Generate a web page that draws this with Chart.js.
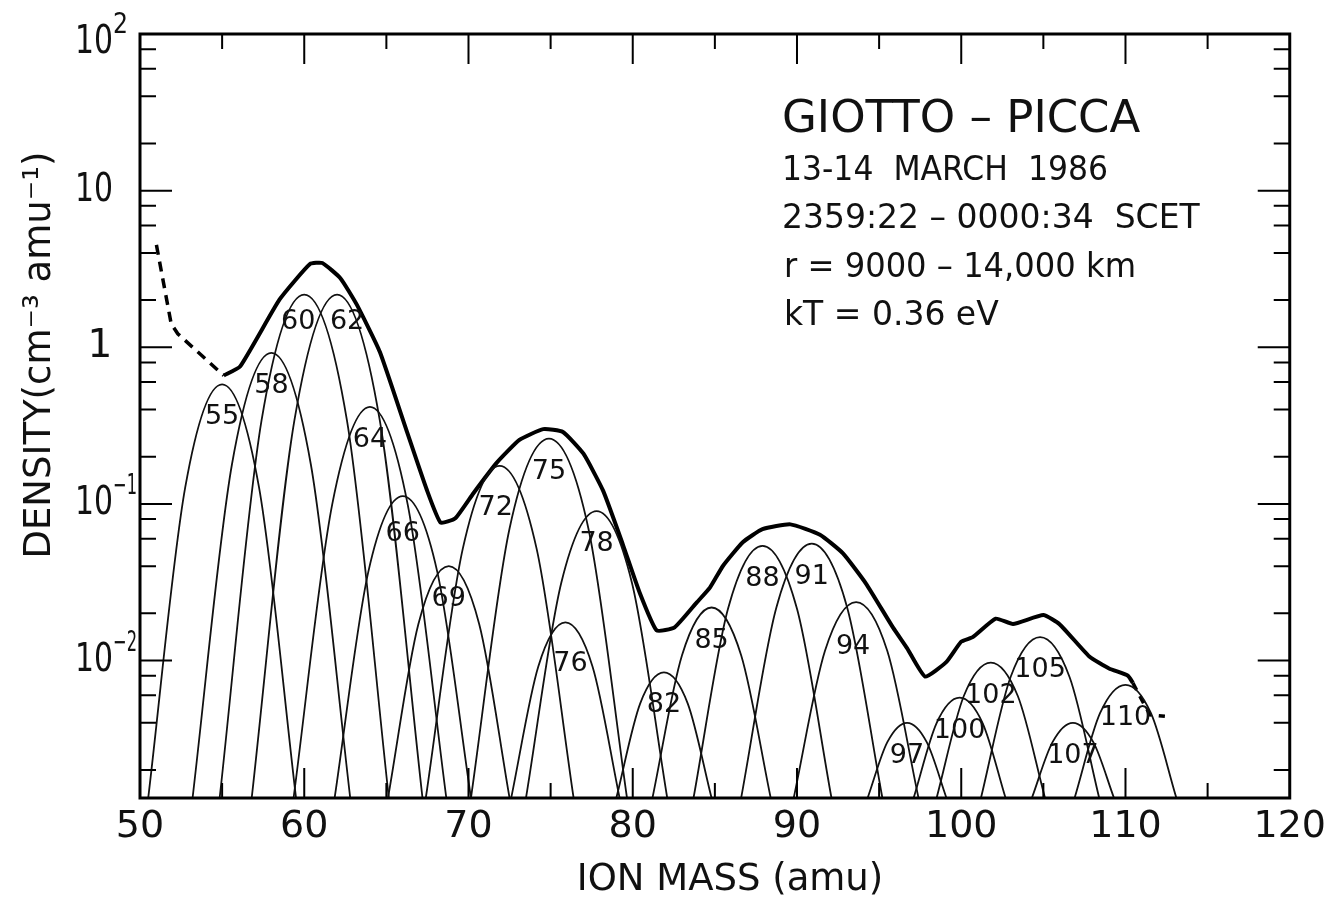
<!DOCTYPE html>
<html>
<head>
<meta charset="utf-8">
<script src="https://cdn.jsdelivr.net/npm/chart.js@4.4.0/dist/chart.umd.min.js"></script>
<style>
  html, body { margin: 0; padding: 0; background: #fff; }
  #wrap { width: 1332px; height: 909px; }
</style>
</head>
<body>
<div id="wrap"><canvas id="chart" width="1332" height="909"></canvas></div>
<script>
// axis ranges + tick labels
var massMin = 50, massMax = 120;
var densityMin = 0.001325, densityMax = 100;
var yTickValues = [0.01, 0.1, 1, 10, 100];
var yTickLabels = ['10^\u22122', '10^\u22121', '1', '10', '10^2'];

// fitted ion components (thin curves)
var ionLabel = [55, 58, 60, 62, 64, 66, 69, 72, 75, 76, 78, 82, 85, 88, 91, 94, 97, 100, 102, 105, 107, 110];
var peakMass = [55.0, 58.0, 60.0, 62.0, 64.0, 66.0, 68.8, 71.9, 74.9, 75.9, 77.8, 81.9, 84.8, 87.9, 90.9, 93.6, 96.7, 99.9, 101.8, 104.8, 106.8, 110.0];
var peakDensity = [0.58, 0.92, 2.17, 2.17, 0.416, 0.112, 0.040, 0.175, 0.261, 0.0175, 0.090, 0.0084, 0.0218, 0.054, 0.0557, 0.0236, 0.0040, 0.0058, 0.0097, 0.0141, 0.0040, 0.0070];
var shoulderDensity = [0.127, 0.179, 0.341, 0.341, 0.099, 0.0368, 0.0171, 0.0516, 0.0697, 0.00916, 0.0314, 0.00531, 0.0108, 0.0214, 0.0219, 0.0115, 0.00301, 0.00399, 0.00591, 0.00782, 0.0030, 0.00461];
var footLeft = [50.5, 53.2, 54.85, 56.8, 59.35, 61.85, 65.1, 67.4, 70.15, 72.6, 73.5, 79.0, 81.2, 83.7, 86.6, 89.8, 94.3, 97.1, 98.5, 101.2, 104.3, 106.9];
var shoulderLeft = [52.75, 55.6, 57.4, 59.4, 61.7, 63.9, 66.95, 69.65, 72.5, 74.25, 75.65, 80.45, 83.0, 85.8, 88.75, 91.7, 95.5, 98.5, 100.15, 103.0, 105.55, 108.45];
var shoulderRight = [57.25, 60.4, 62.6, 64.6, 66.3, 68.1, 70.65, 74.15, 77.3, 77.55, 79.95, 83.35, 86.6, 90.0, 93.05, 95.5, 97.9, 101.3, 103.45, 106.6, 108.05, 111.55];
var footRight = [59.5, 62.8, 65.15, 67.2, 68.65, 70.15, 72.5, 76.4, 79.65, 79.2, 82.1, 84.8, 88.4, 92.1, 95.2, 97.4, 99.1, 102.7, 105.1, 108.4, 109.3, 113.1];

// total density (thick line)
var totalMass = [55.1, 56.1, 58.5, 60.35, 61.1, 62.2, 63.2, 64.6, 66.2, 67.45, 68.3, 69.2, 70.3, 71.7, 73.1, 74.55, 75.75, 77.0, 78.2, 79.4, 80.4, 81.45, 82.55, 83.9, 84.7, 85.5, 86.7, 87.9, 89.6, 91.4, 92.8, 94.2, 95.85, 96.7, 97.8, 99.1, 100.0, 100.7, 102.1, 103.15, 105.0, 106.0, 107.8, 109.0, 110.15, 110.45];
var totalDensity = [0.66, 0.755, 2.02, 3.4, 3.45, 2.76, 1.87, 0.935, 0.30, 0.124, 0.076, 0.081, 0.117, 0.182, 0.256, 0.30, 0.288, 0.209, 0.121, 0.055, 0.0275, 0.0156, 0.0163, 0.0235, 0.0292, 0.0403, 0.0569, 0.069, 0.074, 0.0635, 0.0483, 0.031, 0.0162, 0.012, 0.0079, 0.0098, 0.0132, 0.0141, 0.0185, 0.0171, 0.0195, 0.017, 0.0106, 0.0089, 0.008, 0.0072];
// dashed ends of the total
var dashLeftMass = [51.0, 51.9, 52.3, 55.1];
var dashLeftDensity = [4.5, 1.41, 1.22, 0.66];
var dashRightMass = [110.45, 111.2, 111.5, 112.4];
var dashRightDensity = [0.0072, 0.0051, 0.0045, 0.0044];

var infoLines = ['GIOTTO \u2013 PICCA', '13-14  MARCH  1986', '2359:22 \u2013 0000:34  SCET', 'r = 9000 \u2013 14,000 km', 'kT = 0.36 eV'];

var FONT = "'DejaVu Sans', 'Liberation Sans', sans-serif";
Chart.defaults.font.family = FONT;
Chart.defaults.color = '#111';

// label nudges (px) where the printed number is not right under the top
var labelNudge = {60: [-6, 27], 62: [10, 27], 66: [0, 38], 72: [-4, 42], 76: [5, 42], 94: [-3, 45]};

function pts(xs, ys) {
  return xs.map(function (m, i) { return {x: m, y: ys[i]}; });
}

var datasets = [];
ionLabel.forEach(function (lab, i) {
  datasets.push({
    label: String(lab),
    data: [
      {x: footLeft[i], y: densityMin},
      {x: shoulderLeft[i], y: shoulderDensity[i]},
      {x: peakMass[i], y: peakDensity[i]},
      {x: shoulderRight[i], y: shoulderDensity[i]},
      {x: footRight[i], y: densityMin}
    ],
    borderColor: '#111', borderWidth: 1.8,
    cubicInterpolationMode: 'monotone', pointRadius: 0
  });
});
datasets.push({label: 'total', data: pts(totalMass, totalDensity), borderColor: '#000', borderWidth: 4, tension: 0.15, pointRadius: 0});
datasets.push({label: 'dashL', data: pts(dashLeftMass, dashLeftDensity), borderColor: '#000', borderWidth: 3.5, borderDash: [10, 7], pointRadius: 0});
datasets.push({label: 'dashR', data: pts(dashRightMass, dashRightDensity), borderColor: '#000', borderWidth: 3.5, borderDash: [8, 7], pointRadius: 0});

var decor = {
  id: 'decor',
  afterDatasetsDraw: function (chart) {
    var ctx = chart.ctx, a = chart.chartArea;
    var xs = chart.scales.x, ys = chart.scales.y;
    ctx.save();
    ctx.strokeStyle = '#000';
    ctx.fillStyle = '#111';

    // peak numbers
    ctx.font = '27px ' + FONT;
    ctx.textAlign = 'center';
    ctx.textBaseline = 'middle';
    ionLabel.forEach(function (lab, i) {
      var n = labelNudge[lab] || [0, 33];
      var px = xs.getPixelForValue(peakMass[i]) + n[0];
      var py = ys.getPixelForValue(peakDensity[i]) + n[1];
      ctx.fillText(String(lab), px, py);
    });

    // frame
    ctx.lineWidth = 3;
    ctx.strokeRect(a.left, a.top, a.right - a.left, a.bottom - a.top);

    // inward ticks
    ctx.lineWidth = 2;
    ctx.beginPath();
    for (var m = 55; m < massMax; m += 5) {
      var px = xs.getPixelForValue(m);
      var len = (m % 10 === 0) ? 30 : 15;
      ctx.moveTo(px, a.bottom); ctx.lineTo(px, a.bottom - len);
      ctx.moveTo(px, a.top); ctx.lineTo(px, a.top + len);
    }
    for (var d = 0.001; d <= densityMax; d *= 10) {
      for (var k = 1; k < 10; k++) {
        if (k !== 1 && k % 2 === 1) continue;
        var v = d * k;
        if (v < densityMin || v >= densityMax * 0.999) continue;
        var py = ys.getPixelForValue(v);
        var l2 = (k === 1) ? 32 : 16;
        ctx.moveTo(a.left, py); ctx.lineTo(a.left + l2, py);
        ctx.moveTo(a.right, py); ctx.lineTo(a.right - l2, py);
      }
    }
    ctx.stroke();

    // y tick labels with real superscripts
    ctx.textBaseline = 'middle';
    yTickValues.forEach(function (v, i) {
      var py = Math.max(ys.getPixelForValue(v), a.top + 9);
      var parts = yTickLabels[i].split('^');
      ctx.font = '39px ' + FONT;
      if (parts[0] === '1') {
        ctx.textAlign = 'center';
        ctx.fillText('1', 100, py);
        return;
      }
      ctx.textAlign = 'left';
      ctx.fillText(parts[0], 75, py, 38);
      if (parts[1]) {
        ctx.font = '28px ' + FONT;
        ctx.fillText(parts[1], 113, py - 17, parts[1].length > 1 ? 24 : 15);
      }
    });

    // run info
    ctx.textAlign = 'left';
    ctx.textBaseline = 'alphabetic';
    ctx.font = '45px ' + FONT;
    ctx.fillText(infoLines[0], 782, 132, 367);
    ctx.font = '33px ' + FONT;
    ctx.fillText(infoLines[1], 782, 180, 326);
    ctx.fillText(infoLines[2], 782, 228, 424);
    ctx.fillText(infoLines[3], 784, 277, 352);
    ctx.fillText(infoLines[4], 784, 325, 230);

    // axis titles
    ctx.font = '37px ' + FONT;
    ctx.textAlign = 'center';
    ctx.textBaseline = 'middle';
    ctx.fillText('ION MASS (amu)', 730, 880);
    ctx.translate(40, 355);
    ctx.rotate(-Math.PI / 2);
    ctx.fillText('DENSITY(cm\u207B\u00B3 amu\u207B\u00B9)', 0, 0);
    ctx.restore();
  }
};

new Chart(document.getElementById('chart'), {
  type: 'line',
  data: {datasets: datasets},
  options: {
    responsive: false,
    animation: false,
    layout: {padding: {top: 34, right: 42, left: 0, bottom: 0}},
    plugins: {legend: {display: false}, tooltip: {enabled: false}},
    scales: {
      x: {
        type: 'linear', min: massMin, max: massMax,
        grid: {display: false, drawTicks: false},
        border: {display: false},
        ticks: {stepSize: 10, font: {size: 38}, padding: 6, maxRotation: 0, autoSkip: false},
        afterFit: function (s) { s.height = 111; }
      },
      y: {
        type: 'logarithmic', min: densityMin, max: densityMax,
        grid: {display: false, drawTicks: false},
        border: {display: false},
        afterBuildTicks: function (s) { s.ticks = yTickValues.map(function (v) { return {value: v}; }); },
        ticks: {display: false},
        afterFit: function (s) { s.width = 140; }
      }
    }
  },
  plugins: [decor]
});
</script>
</body>
</html>
